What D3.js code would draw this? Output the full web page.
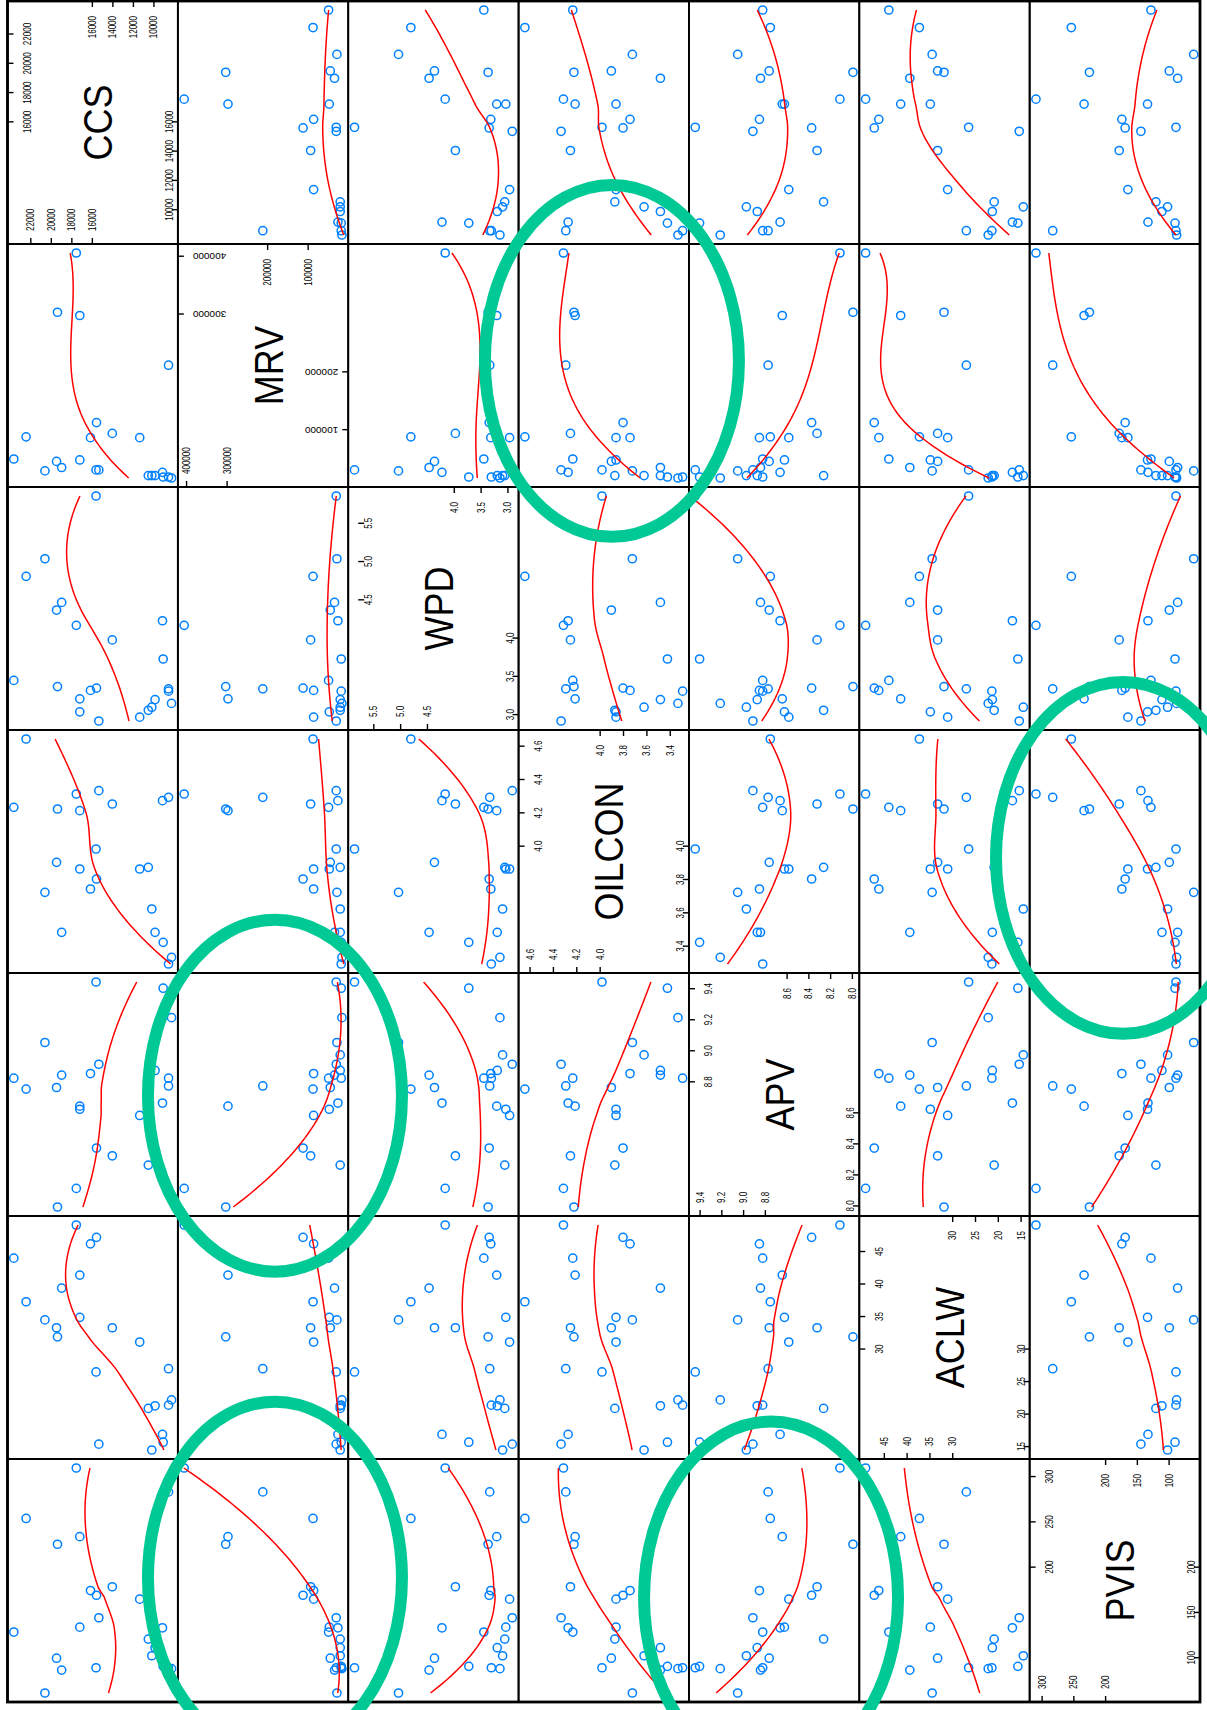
<!DOCTYPE html>
<html><head><meta charset="utf-8">
<script src="https://cdn.jsdelivr.net/npm/d3@7"></script>
<style>
body{margin:0;background:#fff}
svg{display:block}
text{font-family:"Liberation Sans",Arial,Helvetica,sans-serif;fill:#000}
</style>
</head><body>
<svg id="c" width="1207" height="1710"></svg>
<script>
// ---------- data (23 observations) ----------
const variables = ["CCS", "MRV", "WPD", "OILCON", "APV", "ACLW", "PVIS"];
const CCS    = [23607, 22408, 20574, 19442, 19351, 18944, 17517, 17178, 17178, 16136, 15593, 15548, 15321, 14008, 11337, 10499, 10159, 9842, 9118, 9050, 8529, 8529, 8235];
const MRV    = [48400, 86700, 27800, 44200, 302200, 33700, 404700, 296600, 46700, 85300, 29500, 111300, 29500, 92600, 85300, 19700, 19700, 19700, 25300, 17200, 210600, 17200, 15500];
const WPD    = [3.44, 4.80, 5.03, 4.36, 3.36, 4.46, 4.16, 3.20, 3.03, 3.31, 5.85, 3.34, 2.91, 3.97, 2.96, 3.05, 3.09, 3.19, 4.22, 3.72, 3.33, 3.30, 3.14];
const OILCON = [4.23, 4.64, 3.72, 3.90, 4.22, 3.48, 4.31, 4.21, 3.86, 3.74, 3.98, 3.80, 4.33, 4.25, 3.86, 3.87, 3.62, 3.48, 4.27, 3.42, 4.29, 3.29, 3.33];
const APV    = [8.82, 8.75, 9.05, 8.76, 7.99, 8.84, 8.11, 8.64, 8.62, 8.85, 9.44, 8.37, 8.91, 8.32, 8.58, 8.26, 8.97, 8.87, 8.66, 9.40, 8.77, 8.82, 9.21];
const ACLW   = [43.9, 37.2, 34.4, 33.2, 31.8, 39.3, 49.0, 41.3, 34.8, 46.1, 26.4, 47.1, 15.3, 33.2, 31.0, 20.8, 14.4, 21.2, 16.8, 15.6, 26.9, 21.3, 22.1];
const PVIS   = [127.8, 253.2, 60.5, 98.9, 224.7, 85.8, 308.9, 233.1, 133.2, 173.6, 88.4, 168.4, 143.6, 177.8, 164.1, 120.0, 101.6, 110.5, 132.5, 89.9, 282.5, 88.4, 87.4];

// ---------- tick labels (upper half / lower half of each scale) ----------
const ticksHiCCS = [16000, 18000, 20000, 22000],  ticksLoCCS = [10000, 12000, 14000, 16000];
const ticksHiMRV = [300000, 400000],              ticksLoMRV = [100000, 200000];
const ticksHiWPD = [4.5, 5.0, 5.5],               ticksLoWPD = [3.0, 3.5, 4.0];
const ticksHiOIL = [4.0, 4.2, 4.4, 4.6],          ticksLoOIL = [3.4, 3.6, 3.8, 4.0];
const ticksHiAPV = [8.8, 9.0, 9.2, 9.4],          ticksLoAPV = [8.0, 8.2, 8.4, 8.6];
const ticksHiACLW = [30, 35, 40, 45],             ticksLoACLW = [15, 20, 25, 30];
const ticksHiPVIS = [200, 250, 300],              ticksLoPVIS = [100, 150, 200];

const columns = [CCS, MRV, WPD, OILCON, APV, ACLW, PVIS];
const ticksHi = [ticksHiCCS, ticksHiMRV, ticksHiWPD, ticksHiOIL, ticksHiAPV, ticksHiACLW, ticksHiPVIS];
const ticksLo = [ticksLoCCS, ticksLoMRV, ticksLoWPD, ticksLoOIL, ticksLoAPV, ticksLoACLW, ticksLoPVIS];
const formats = [d3.format("d"), d3.format("d"), d3.format(".1f"), d3.format(".1f"), d3.format(".1f"), d3.format("d"), d3.format("d")];

// ---------- layout ----------
const svg = d3.select("#c");
const X0 = 7.5, Y0 = 1, X1 = 1200, Y1 = 1702;
const nv = variables.length;
const W = (X1 - X0) / nv, H = (Y1 - Y0) / nv;
const BLUE = "#0080ff", RED = "#ff0000", GREEN = "#00c995";

const domains = columns.map(a => { const e = d3.extent(a); const p = 0.04 * (e[1] - e[0]); return [e[0] - p, e[1] + p]; });
// horizontal scale: value increases to the left; vertical: increases upward
const xScale = domains.map((d, k) => d3.scaleLinear().domain(d).range([X0 + (k + 1) * W, X0 + k * W]));
const yScale = domains.map((d, k) => d3.scaleLinear().domain(d).range([Y0 + (k + 1) * H, Y0 + k * H]));

// ---------- loess smoother (local quadratic, robust, kd-tree vertices + Hermite interpolation) ----------
function solve(A, b) {
  const n = b.length; const M = A.map((r, i) => r.concat([b[i]]));
  for (let i = 0; i < n; i++) {
    let p = i; for (let k = i + 1; k < n; k++) if (Math.abs(M[k][i]) > Math.abs(M[p][i])) p = k;
    [M[i], M[p]] = [M[p], M[i]];
    if (Math.abs(M[i][i]) < 1e-14) return null;
    for (let k = i + 1; k < n; k++) { const f = M[k][i] / M[i][i]; for (let j = i; j <= n; j++) M[k][j] -= f * M[i][j]; }
  }
  const x = new Array(n);
  for (let i = n - 1; i >= 0; i--) { let s = M[i][n]; for (let j = i + 1; j < n; j++) s -= M[i][j] * x[j]; x[i] = s / M[i][i]; }
  return x;
}
function loessSmooth(xIn, yIn, span = 1.2, degree = 2, iterations = 4, evaluation = 50) {
  const n = xIn.length;
  const ord = d3.range(n).sort((a, b) => xIn[a] - xIn[b]);
  const x = ord.map(i => xIn[i]), y = ord.map(i => yIn[i]);
  const nf = Math.min(n, Math.floor(n * span + 1e-5));
  const fc = Math.floor(n * span * 0.2);
  const xmin = x[0], xmax = x[n - 1];
  const mu = 0.005 * (xmax - xmin);
  const verts = [xmin - mu, xmax + mu];
  function build(l, u, vlo, vhi) {
    let leaf = (u - l + 1) <= fc, m = 0;
    if (!leaf) {
      m = Math.floor((l + u + 2) / 2) - 1;
      let offset = 0;
      for (;;) {
        if (m + offset >= u || m + offset < l) break;
        if (x[m + offset] === x[m + offset + 1]) { offset = -offset; if (offset >= 0) offset++; }
        else { m = m + offset; break; }
      }
      if (vlo === x[m] || vhi === x[m]) leaf = true;
    }
    if (leaf) return;
    const t = x[m]; verts.push(t);
    build(l, m, vlo, t); build(m + 1, u, t, vhi);
  }
  build(0, n - 1, xmin - mu, xmax + mu);
  const vArr = Array.from(new Set(verts)).sort((a, b) => a - b);
  function fitAt(q, rw) {
    const dist = x.map(v => Math.abs(v - q));
    const idx = d3.range(n).sort((a, b) => dist[a] - dist[b]);
    let h = dist[idx[nf - 1]];
    if (span > 1) h = d3.max(dist) * span;
    const p = degree + 1;
    const A = d3.range(p).map(() => new Array(p).fill(0)), bb = new Array(p).fill(0);
    const sc = h > 0 ? h : 1;
    for (let k = 0; k < nf; k++) {
      const i = idx[k]; const r = h > 0 ? dist[i] / h : 0;
      const w = r < 1 ? rw[i] * Math.pow(1 - r * r * r, 3) : 0;
      const dx = (x[i] - q) / sc;
      const basis = d3.range(p).map(j => Math.pow(dx, j));
      for (let a = 0; a < p; a++) { bb[a] += w * basis[a] * y[i]; for (let c = 0; c < p; c++) A[a][c] += w * basis[a] * basis[c]; }
    }
    let sol = solve(A, bb);
    if (!sol) sol = solve([[A[0][0], A[0][1]], [A[1][0], A[1][1]]], [bb[0], bb[1]]) || [bb[0] / A[0][0], 0];
    return [sol[0], (sol[1] || 0) / sc];
  }
  let vval = [];
  function interp(z) {
    let j = d3.bisectRight(vArr, z) - 1;
    j = Math.max(0, Math.min(vArr.length - 2, j));
    const v0 = vArr[j], v1 = vArr[j + 1], hh = v1 - v0, t = (z - v0) / hh;
    const f0 = vval[j][0], s0 = vval[j][1], f1 = vval[j + 1][0], s1 = vval[j + 1][1];
    return (1 - t) * (1 - t) * (1 + 2 * t) * f0 + t * t * (3 - 2 * t) * f1
      + (t * (1 - t) * (1 - t) * s0 + t * t * (t - 1) * s1) * hh;
  }
  let rw = new Array(n).fill(1);
  for (let it = 1; it <= iterations; it++) {
    vval = vArr.map(q => fitAt(q, rw));
    if (it < iterations) {
      const a = x.map((v, i) => Math.abs(y[i] - interp(v)));
      const s = a.slice().sort((p, q) => p - q);
      const nh = Math.floor(n / 2) + 1;
      const cmad = ((n - nh) + 1 < nh) ? 3 * (s[nh - 1] + s[nh - 2]) : 6 * s[nh - 1];
      if (cmad < 1e-300) rw = rw.map(() => 1);
      else rw = a.map(r => cmad * 0.999 < r ? 0 : (cmad * 0.001 < r ? Math.pow(1 - (r / cmad) * (r / cmad), 2) : 1));
    }
  }
  const out = [];
  for (let k = 0; k < evaluation; k++) {
    const z = xmin + (xmax - xmin) * k / (evaluation - 1);
    out.push([z, interp(z)]);
  }
  return out;
}

// ---------- clip paths ----------
const defs = svg.append("defs");
for (let r = 0; r < nv; r++) for (let c = 0; c < nv; c++) {
  defs.append("clipPath").attr("id", `cl-${r}-${c}`).append("rect")
    .attr("x", X0 + c * W).attr("y", Y0 + r * H).attr("width", W).attr("height", H);
}

// ---------- panels ----------
const panels = svg.append("g");
for (let r = 0; r < nv; r++) {
  for (let c = 0; c < nv; c++) {
    if (r === c) continue;
    const g = panels.append("g");
    const vx = columns[r], vy = columns[c];
    g.selectAll("circle").data(d3.range(vx.length)).join("circle")
      .attr("cx", i => xScale[c](vy[i]))
      .attr("cy", i => yScale[r](vx[i]))
      .attr("r", 4.1)
      .attr("fill", "none").attr("stroke", BLUE).attr("stroke-width", 1.5);
    const sm = loessSmooth(vx, vy);
    g.append("path")
      .attr("clip-path", `url(#cl-${r}-${c})`)
      .attr("d", d3.line().x(p => xScale[c](p[1])).y(p => yScale[r](p[0]))(sm))
      .attr("fill", "none").attr("stroke", RED).attr("stroke-width", 1.5);
  }
}

// ---------- cell borders ----------
for (let r = 0; r < nv; r++) for (let c = 0; c < nv; c++) {
  svg.append("rect").attr("x", X0 + c * W).attr("y", Y0 + r * H).attr("width", W).attr("height", H)
    .attr("fill", "none").attr("stroke", "#000").attr("stroke-width", 1.8);
}
svg.append("rect").attr("x", X0).attr("y", Y0).attr("width", X1 - X0).attr("height", Y1 - Y0)
  .attr("fill", "none").attr("stroke", "#000").attr("stroke-width", 2.8);

// ---------- diagonal: names and axes ----------
function styleAxis(sel) {
  sel.select(".domain").remove();
  sel.selectAll(".tick line").attr("stroke", "#000").attr("stroke-width", 1.4);
  sel.selectAll(".tick text").attr("x", 0).attr("y", 0).attr("fill", "#000");
}
for (let k = 0; k < nv; k++) {
  const left = X0 + k * W, right = left + W, top = Y0 + k * H, bottom = top + H;
  const fs = k === 1 ? 11.5 : 13.5;
  const fmt = formats[k];
  const leftOff = k === 2 ? 10 : 0;
  const g = svg.append("g").attr("font-size", fs);

  // left edge: upper values of vertical scale
  const aL = g.append("g").attr("transform", `translate(${left + leftOff},0)`)
    .call(d3.axisRight(yScale[k]).tickValues(ticksHi[k]).tickSize(6).tickFormat(fmt));
  styleAxis(aL);
  if (k === 1) {
    aL.selectAll(".tick text").attr("text-anchor", "end").attr("dy", "0.35em")
      .attr("transform", `translate(${15 - leftOff},0) rotate(180) scale(1,0.88)`);
  } else {
    aL.selectAll(".tick text").attr("text-anchor", "middle").attr("dy", 0)
      .attr("transform", `translate(${23.5 - leftOff},0) rotate(-90) scale(0.8,1)`);
  }

  // right edge: lower values of vertical scale
  const aR = g.append("g").attr("transform", `translate(${right},0)`)
    .call(d3.axisLeft(yScale[k]).tickValues(ticksLo[k]).tickSize(6).tickFormat(fmt));
  styleAxis(aR);
  if (k === 1) {
    aR.selectAll(".tick text").attr("text-anchor", "start").attr("dy", "0.35em")
      .attr("transform", `translate(-10,0) rotate(180) scale(1,0.88)`);
  } else {
    aR.selectAll(".tick text").attr("text-anchor", "middle").attr("dy", 0)
      .attr("transform", `translate(-5,0) rotate(-90) scale(0.8,1)`);
  }

  // top edge: lower values of horizontal scale
  const aT = g.append("g").attr("transform", `translate(0,${top})`)
    .call(d3.axisBottom(xScale[k]).tickValues(ticksLo[k]).tickSize(6).tickFormat(fmt));
  styleAxis(aT);
  aT.selectAll(".tick text").attr("text-anchor", "end").attr("dy", "0.35em")
    .attr("transform", `translate(0,15) rotate(-90) scale(0.8,1)`);

  // bottom edge: upper values of horizontal scale
  const aB = g.append("g").attr("transform", `translate(0,${bottom})`)
    .call(d3.axisTop(xScale[k]).tickValues(ticksHi[k]).tickSize(6).tickFormat(fmt));
  styleAxis(aB);
  aB.selectAll(".tick text").attr("text-anchor", "start").attr("dy", "0.35em")
    .attr("transform", `translate(0,-13) rotate(-90) scale(0.8,1)`);

  // variable name
  svg.append("text")
    .attr("transform", `translate(${(left + right) / 2 + 5.5},${(top + bottom) / 2}) rotate(-90) scale(0.9,1)`)
    .attr("text-anchor", "middle").attr("dy", "0.35em")
    .attr("font-size", 40).text(variables[k]);
}

// ---------- green highlight ellipses (in cell units) ----------
const ellipseCol = [3.548, 1.570, 6.548, 1.570, 4.482];
const ellipseRow = [1.481, 4.505, 3.526, 6.488, 6.570];
const ellRX = 0.7455, ellRY = 0.724;
svg.append("g").selectAll("ellipse").data(d3.range(ellipseCol.length)).join("ellipse")
  .attr("cx", i => X0 + ellipseCol[i] * W)
  .attr("cy", i => Y0 + ellipseRow[i] * H)
  .attr("rx", ellRX * W).attr("ry", ellRY * H)
  .attr("fill", "none").attr("stroke", GREEN).attr("stroke-width", 12);
</script>
</body></html>
